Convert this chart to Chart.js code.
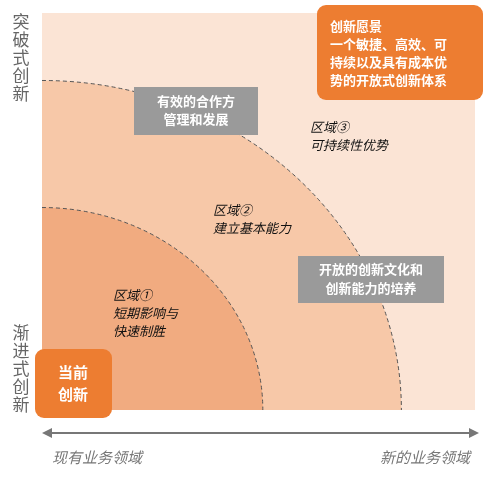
<!DOCTYPE html><html><head><meta charset="utf-8">
<script src="https://cdn.jsdelivr.net/npm/chart.js@4"></script>
<style>html,body{margin:0;padding:0;background:#fff}#c{display:block}</style></head><body>
<div style="width:499px;height:477px"><canvas id="c"></canvas></div>
<script>
const regionNames=["区域①","区域②","区域③"];
const regionDesc=[["短期影响与","快速制胜"],["建立基本能力"],["可持续性优势"]];
const regionRadii=[51,83];
const visionText=["创新愿景","一个敏捷、高效、可","持续以及具有成本优","势的开放式创新体系"];
const grayBox1=["有效的合作方","管理和发展"];
const grayBox2=["开放的创新文化和","创新能力的培养"];
const currentText=["当前","创新"];
const yAxisTop="突破式创新", yAxisBottom="渐进式创新";
const xAxisLeft="现有业务领域", xAxisRight="新的业务领域";
const F='"Noto Sans CJK SC","Noto Sans",sans-serif';
function rr(ctx,x,y,w,h,r){ctx.beginPath();ctx.roundRect(x,y,w,h,r);}
const diag={id:'diag',beforeDatasetsDraw(ch){
 const ctx=ch.ctx,xs=ch.scales.x,ys=ch.scales.y;
 const x0=xs.getPixelForValue(0),y0=ys.getPixelForValue(0),x1=xs.getPixelForValue(100),y1=ys.getPixelForValue(100);
 ctx.save();
 ctx.fillStyle='#fbe4d5';ctx.fillRect(x0,y1,x1-x0,y0-y1);
 const cols=['#f1ab80','#f7c8a8'];
 [1,0].forEach(i=>{const r=regionRadii[i];const rx=xs.getPixelForValue(r)-x0,ry=y0-ys.getPixelForValue(r);
  ctx.beginPath();ctx.moveTo(x0,y0);ctx.ellipse(x0,y0,rx,ry,0,-Math.PI/2,0);ctx.closePath();ctx.fillStyle=cols[i];ctx.fill();
  ctx.beginPath();ctx.ellipse(x0,y0,rx,ry,0,-Math.PI/2,0);ctx.setLineDash([4,3]);ctx.strokeStyle='#555';ctx.lineWidth=1;ctx.stroke();ctx.setLineDash([]);});
 // boxes
 ctx.fillStyle='#ed7d31';rr(ctx,317,5,166,95,9);ctx.fill();
 ctx.fillStyle='#fff';ctx.font='bold 13px '+F;ctx.textBaseline='middle';ctx.textAlign='left';
 visionText.forEach((t,i)=>ctx.fillText(t,330,26+i*18));
 ctx.fillStyle='#9a9a9a';ctx.fillRect(134,87,124,48);ctx.fillRect(298,256,146,47);
 ctx.fillStyle='#fff';ctx.textAlign='center';
 grayBox1.forEach((t,i)=>ctx.fillText(t,196,101+i*18));
 grayBox2.forEach((t,i)=>ctx.fillText(t,371,269+i*19));
 ctx.fillStyle='#ed7d31';rr(ctx,35,349,77,69,9);ctx.fill();
 ctx.fillStyle='#fff';ctx.font='bold 15px '+F;
 currentText.forEach((t,i)=>ctx.fillText(t,73,372+i*22));
 // region labels
 ctx.fillStyle='#111';ctx.font='italic 13px '+F;ctx.textAlign='left';
 const pos=[[113,295],[213,210],[310,127]];
 regionNames.forEach((n,i)=>{ctx.fillText(n,pos[i][0],pos[i][1]);regionDesc[i].forEach((t,j)=>ctx.fillText(t,pos[i][0],pos[i][1]+18*(j+1)));});
 // y axis labels
 ctx.fillStyle='#666';ctx.font='17px '+F;ctx.textAlign='center';
 [...yAxisTop].forEach((c,i)=>ctx.fillText(c,21,22+i*18));
 [...yAxisBottom].forEach((c,i)=>ctx.fillText(c,21,333+i*18));
 // arrow
 ctx.strokeStyle='#777';ctx.fillStyle='#777';ctx.lineWidth=2;ctx.beginPath();ctx.moveTo(48,433);ctx.lineTo(472,433);ctx.stroke();
 ctx.beginPath();ctx.moveTo(42,433);ctx.lineTo(52,428);ctx.lineTo(52,438);ctx.fill();
 ctx.beginPath();ctx.moveTo(479,433);ctx.lineTo(469,428);ctx.lineTo(469,438);ctx.fill();
 ctx.font='italic 15px '+F;ctx.fillStyle='#777';ctx.textAlign='left';ctx.fillText(xAxisLeft,52,457);
 ctx.textAlign='right';ctx.fillText(xAxisRight,470,457);
 ctx.restore();}};
new Chart(document.getElementById('c'),{type:'scatter',data:{datasets:[{data:[],pointRadius:0}]},
 options:{responsive:true,maintainAspectRatio:false,animation:false,events:[],
  layout:{padding:{left:42,right:24,top:13,bottom:67}},
  plugins:{legend:{display:false},tooltip:{enabled:false}},
  scales:{x:{display:false,min:0,max:100},y:{display:false,min:0,max:100}}},plugins:[diag]});
</script></body></html>
